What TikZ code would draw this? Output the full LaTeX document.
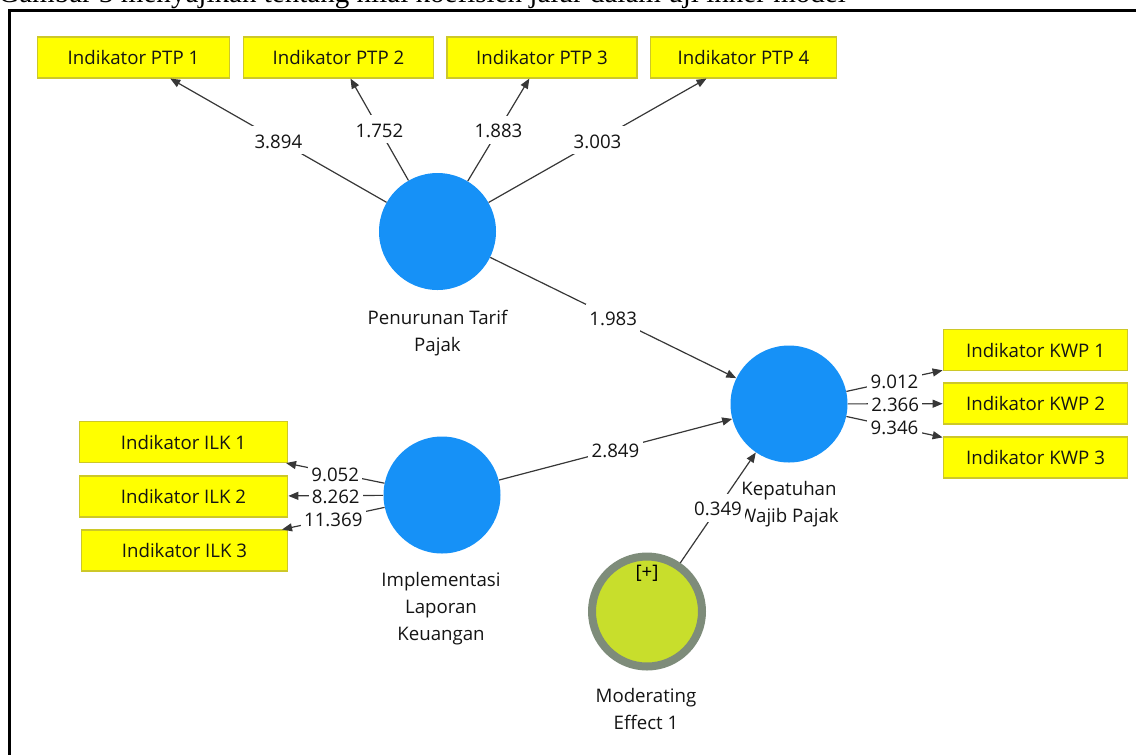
\documentclass[tikz,border=0pt]{standalone}
\usepackage{fontspec}
\setmainfont{Open Sans}
\newfontfamily\capfont{Liberation Serif}
\usetikzlibrary{arrows.meta, positioning}

\definecolor{lvblue}{RGB}{22,145,247}
\definecolor{indyellow}{RGB}{255,255,0}
\definecolor{indborder}{RGB}{205,200,40}
\definecolor{modfill}{RGB}{200,222,44}
\definecolor{modring}{RGB}{126,140,122}
\definecolor{linkgray}{RGB}{55,55,55}
\definecolor{txtdark}{RGB}{20,20,20}

\tikzset{
  indicator/.style={draw=indborder, fill=indyellow, line width=0.8pt, inner sep=0pt,
    minimum height=30.75pt, text=txtdark},
  latent/.style={circle, fill=lvblue, minimum size=87.75pt, inner sep=0pt},
  moderator/.style={circle, fill=modfill, draw=modring, line width=6pt,
    minimum size=82.5pt, inner sep=0pt},
  lvname/.style={align=center, text=txtdark, inner sep=0pt},
  coef/.style={fill=white, inner xsep=2.5pt, inner ysep=0pt, text height=16.5pt,
    text depth=4.5pt, text=txtdark},
  link/.style={draw=linkgray, line width=0.9pt, -{Triangle[length=7.5pt, width=6pt]}}
}

\begin{document}
\begin{tikzpicture}[x=0.75pt, y=-0.75pt, font=\fontsize{14}{20.25}\selectfont]
    \useasboundingbox (0, 0) rectangle (1136, 754);
    \clip (0, 0) rectangle (1136, 754);

    % caption line and frame
    \node[anchor=base west, inner sep=0pt, font=\capfont\fontsize{21.8}{26}\selectfont] (caption)
        at (-2, 2.5) {Gambar 3 menyajikan tentang nilai koefisien jalur dalam uji inner model};
    \draw[line width=2.6pt] (9.5, 770) -- (9.5, 10.5) -- (1150, 10.5);

    % indicators
    \node[indicator, minimum width=144pt] (ptp1) at (133.5, 57.5) {Indikator PTP 1};
    \node[indicator, minimum width=143pt] (ptp2) at (338.5, 57.5) {Indikator PTP 2};
    \node[indicator, minimum width=142.5pt] (ptp3) at (542, 57.5) {Indikator PTP 3};
    \node[indicator, minimum width=140pt] (ptp4) at (743.5, 57.5) {Indikator PTP 4};
    \node[indicator, minimum width=156.5pt] (ilk1) at (183.5, 442) {Indikator ILK 1};
    \node[indicator, minimum width=156.5pt] (ilk2) at (183.5, 496.5) {Indikator ILK 2};
    \node[indicator, minimum width=155pt] (ilk3) at (184.5, 550.5) {Indikator ILK 3};
    \node[indicator, minimum width=138.5pt] (kwp1) at (1035.5, 350) {Indikator KWP 1};
    \node[indicator, minimum width=138.5pt] (kwp2) at (1035.5, 403.5) {Indikator KWP 2};
    \node[indicator, minimum width=138.5pt] (kwp3) at (1035.5, 457.5) {Indikator KWP 3};

    % constructs
    \node[latent] (ptr) at (437.5, 231.5) {};
    \node[latent] (ilk) at (442, 495) {};
    \node[latent] (kwp) at (789, 404) {};
    \node[moderator] (mod) at (647, 611.5) {};
    \node (modplus) at (647, 573) {[+]};

    \node[lvname] (ptrname) at (437.5, 333) {Penurunan Tarif\\Pajak};
    \node[lvname] (ilkname) at (441, 609) {Implementasi\\Laporan\\Keuangan};
    \node[lvname] (kwpname) at (789, 504.5) {Kepatuhan\\Wajib Pajak};
    \node[lvname] (modname) at (646, 708.5) {Moderating\\Effect 1};

    % outer model
    \draw[link] (ptr) -- node[coef] {3.894} (ptp1);
    \draw[link] (ptr) -- node[coef] {1.752} (ptp2);
    \draw[link] (ptr) -- node[coef] {1.883} (ptp3);
    \draw[link] (ptr) -- node[coef] {3.003} (ptp4);
    \draw[link] (ilk) -- node[coef] {9.052} (ilk1);
    \draw[link] (ilk) -- node[coef] {8.262} (ilk2);
    \draw[link] (ilk) -- node[coef] {11.369} (ilk3);
    \draw[link] (kwp) -- node[coef] {9.012} (kwp1);
    \draw[link] (kwp) -- node[coef] {2.366} (kwp2);
    \draw[link] (kwp) -- node[coef] {9.346} (kwp3);

    % inner model
    \draw[link] (ptr) -- node[coef] {1.983} (kwp);
    \draw[link] (ilk) -- node[coef] {2.849} (kwp);
    \draw[link] (mod) -- node[coef] {0.349} (kwp);
\end{tikzpicture}
\end{document}
